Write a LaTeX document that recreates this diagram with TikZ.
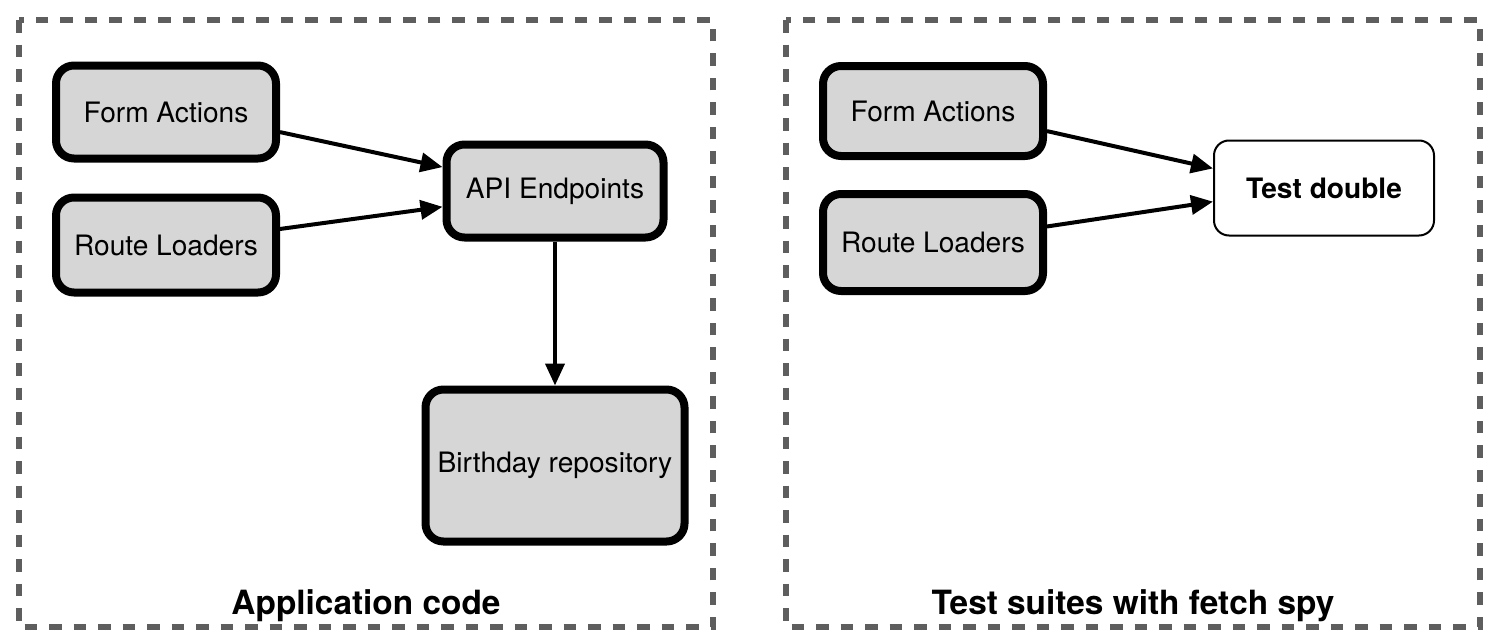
\documentclass[tikz,border=0pt]{standalone}
\usepackage{fontspec}
\setmainfont{TeX Gyre Heros}
\usetikzlibrary{arrows.meta, positioning}
\usepackage{xcolor}
\definecolor{boxFill}{HTML}{D6D6D6}
\definecolor{frameGray}{HTML}{5E5E5E}
\tikzset{
    >={Triangle[length=0.44cm, width=0.38cm]},
    % Frames
    dashFrame/.style={draw=frameGray, line width=0.12cm, dash pattern=on 0.25cm off 0.24cm},
    frameTitle/.style={anchor=base, font=\bfseries\fontsize{19}{23}\selectfont},
    % Shapes
    comp/.style={rectangle, draw=black, fill=boxFill, line width=0.16cm, rounded corners=0.36cm,
                 inner sep=2pt, align=center, font=\fontsize{16}{19}\selectfont,
                 minimum width=4.4cm, minimum height=1.86cm},
    doubleBox/.style={rectangle, draw=black, fill=white, line width=0.04cm, rounded corners=0.3cm,
                 minimum width=4.4cm, minimum height=1.9cm, font=\bfseries\fontsize{16}{19}\selectfont},
    % Flow
    flow/.style={->, line width=0.08cm}
}

\begin{document}
\begin{tikzpicture}[node distance=0.62cm]
\useasboundingbox (0,0) rectangle (29.9,-12.76);

% Application code
\draw[dashFrame] (0.38,-0.4) rectangle (14.26,-12.54);
\node[frameTitle] (appTitle) at (7.32,-12.28) {Application code};

\node[comp] (formL) at (3.32,-2.24) {Form Actions};
\node[comp, below=of formL, minimum height=1.9cm] (routeL) {Route Loaders};
\node[comp, minimum width=4.34cm] (api) at (11.1,-3.82) {API Endpoints};
\node[comp, below=2.88cm of api, minimum width=5.18cm, minimum height=3.04cm] (repo) {Birthday repository};

\draw[flow] (formL.-10) -- (api.168);
\draw[flow] (routeL.8) -- (api.188);
\draw[flow] (api) -- (repo);

% Test suites
\draw[dashFrame] (15.72,-0.4) rectangle (29.6,-12.54);
\node[frameTitle] (testTitle) at (22.66,-12.28) {Test suites with fetch spy};

\node[comp, minimum height=1.8cm] (formR) at (18.66,-2.22) {Form Actions};
\node[comp, below=0.6cm of formR, minimum height=1.94cm] (routeR) {Route Loaders};
\node[doubleBox] (double) at (26.48,-3.76) {Test double};

\draw[flow] (formR.-10) -- (double.170);
\draw[flow] (routeR.8) -- (double.187);

\end{tikzpicture}
\end{document}
